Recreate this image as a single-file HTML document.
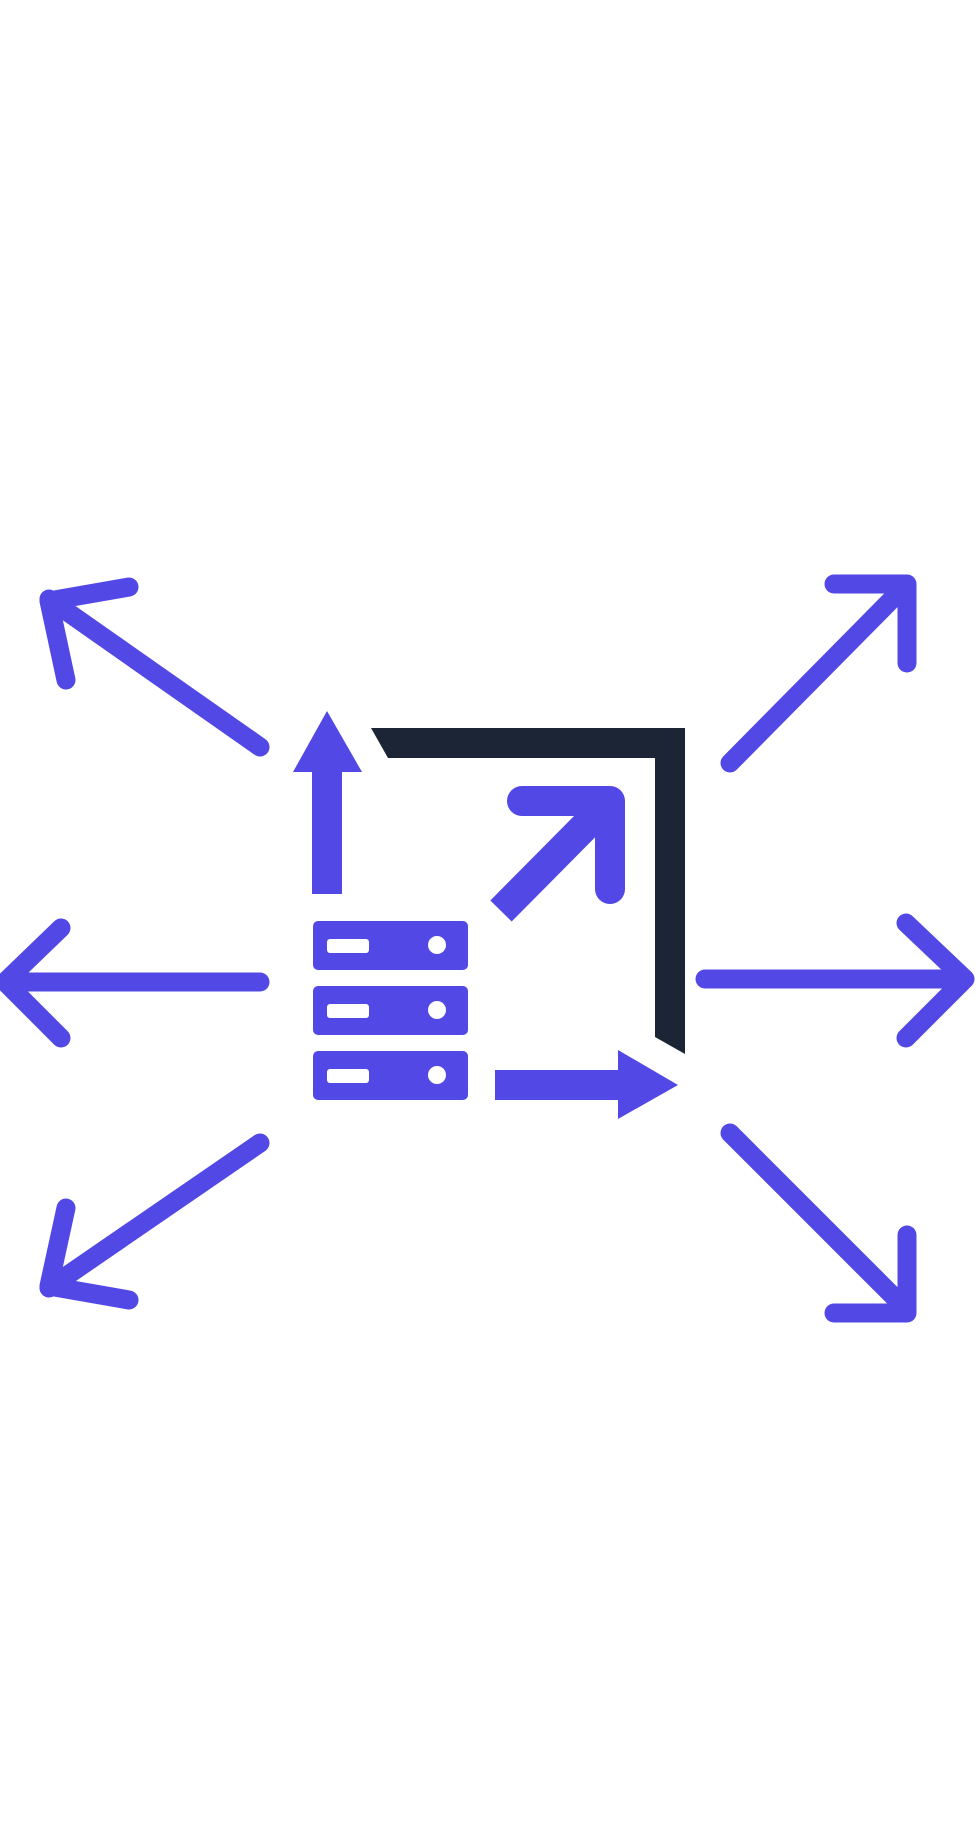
<!DOCTYPE html>
<html><head><style>html,body{margin:0;padding:0;background:#fff;}svg{display:block}</style></head>
<body>
<svg width="978" height="1831" viewBox="0 0 978 1831" xmlns="http://www.w3.org/2000/svg">
<g transform="translate(-3,-2)">
<g stroke="#5248e6" stroke-width="19" stroke-linecap="round" stroke-linejoin="round" fill="none">
<path d="M263 749 L52 601 M132 589 L52 603 L69 682"/>
<path d="M733 765 L910 586 M837 586 L910 586 L910 665"/>
<path d="M263 984 L8 984 M64 930 L8 984 L64 1040"/>
<path d="M708 981 L968 981 M909 925 L968 981 L909 1040"/>
<path d="M263 1145 L52 1290 M132 1302 L52 1288 L69 1210"/>
<path d="M733 1135 L910 1312 M837 1315 L910 1315 L910 1237"/>
</g>
<g fill="#5248e6">
<rect x="315" y="774" width="30" height="122"/>
<polygon points="330,713 365,774 296,774"/>
<rect x="498" y="1072" width="123" height="30"/>
<polygon points="621,1052 681,1087 621,1121"/>
<rect x="316" y="923" width="155" height="49" rx="5"/>
<rect x="316" y="988" width="155" height="49" rx="5"/>
<rect x="316" y="1053" width="155" height="49" rx="5"/>
</g>
<g fill="#fff">
<rect x="330" y="941" width="42" height="14" rx="3"/><circle cx="440" cy="947" r="9"/>
<rect x="330" y="1006" width="42" height="14" rx="3"/><circle cx="440" cy="1012" r="9"/>
<rect x="330" y="1071" width="42" height="14" rx="3"/><circle cx="440" cy="1077" r="9"/>
</g>
<g stroke="#5248e6" stroke-width="30" fill="none" stroke-linejoin="round">
<path d="M504 913 L610 806"/>
<path d="M525 803 L613 803 L613 891" stroke-linecap="round"/>
</g>
<polygon fill="#1b2535" points="374,730 688,730 688,1056 658,1039 658,760 391,760"/>
</g>
</svg>
</body></html>
